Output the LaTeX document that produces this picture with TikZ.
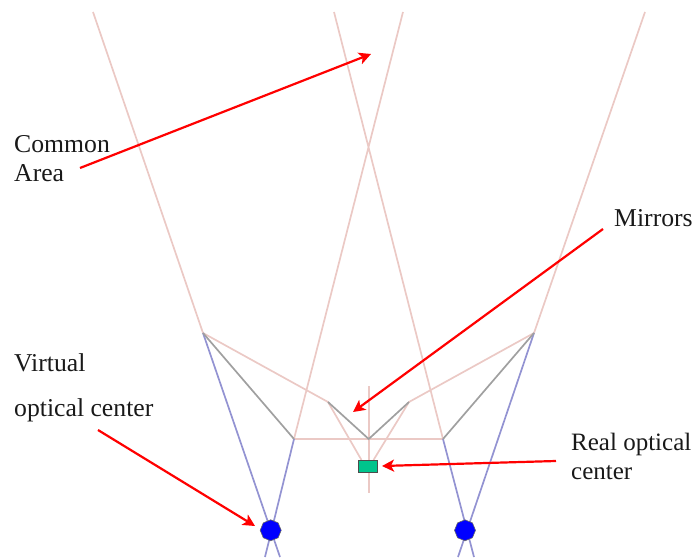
\documentclass[tikz,border=0pt]{standalone}
\usepackage{fontspec}
\setmainfont{Liberation Serif}
\usetikzlibrary{arrows.meta,shapes.geometric}
\definecolor{pinkline}{HTML}{EBC9C5}
\definecolor{blueline}{HTML}{9393D2}
\definecolor{greyline}{HTML}{A0A0A0}
\definecolor{tealbox}{HTML}{00C48C}
\tikzset{
 x=1pt,y=-1pt,
 field/.style={pinkline,line width=1.7pt},
 ray/.style={blueline,line width=1.7pt},
 mirror/.style={greyline,line width=1.7pt},
 callout/.style={red,line width=2.2pt,-{Stealth[length=12pt,width=12pt,inset=3pt]}},
 label/.style={anchor=base west,inner sep=0pt,font=\fontsize{25.7}{28}\selectfont,text=black!90},
 centre/.style={regular polygon,regular polygon sides=8,shape border rotate=22.5,fill=blue,draw=black!60,line width=.6pt,minimum size=21pt,inner sep=0pt},
}
\begin{document}
\begin{tikzpicture}
\useasboundingbox (0,0) rectangle (696,559);
\coordinate (LT) at (93,12);
\coordinate (LO) at (203,333);
\coordinate (LI) at (294,439);
\coordinate (CLT) at (403,12);
\coordinate (CRT) at (334,12);
\coordinate (RT) at (645,12);
\coordinate (RO) at (534,333);
\coordinate (RI) at (443,439);
\coordinate (ML) at (328,402);
\coordinate (MR) at (409,402);
\coordinate (MC) at (368.7,439);
\coordinate (VT) at (368.7,386);
\coordinate (VB) at (368.7,493);
\coordinate (LEA) at (280,557);
\coordinate (LEB) at (265,557);
\coordinate (REA) at (474,557);
\coordinate (REB) at (458,557);
\coordinate (CL) at (361.5,460);
\coordinate (CR) at (373.5,460);
% fields of view
\draw[field] (LT) -- (LO) -- (ML) -- (CL);
\draw[field] (RT) -- (RO) -- (MR) -- (CR);
\draw[field] (CLT) -- (LI) -- (RI) -- (CRT);
\draw[field] (VT) -- (VB);
% rays to the virtual centres
\draw[ray] (LO) -- (LEA);
\draw[ray] (LI) -- (LEB);
\draw[ray] (RO) -- (REB);
\draw[ray] (RI) -- (REA);
% mirrors
\draw[mirror] (LO) -- (LI);
\draw[mirror] (ML) -- (MC) -- (MR);
\draw[mirror] (RO) -- (RI);
\node[draw=black!70,fill=tealbox,line width=.8pt,minimum width=18.5pt,minimum height=12.5pt,inner sep=0pt] (cam) at (368,466.3) {};
\node[centre] (VL) at (270.7,530.3) {};
\node[centre] (VR) at (465,530.3) {};
% labels
\node[label] (common) at (14,153) {Common};
\node[label] (area) at (14,182) {Area};
\node[label] (mirrors) at (614,226) {Mirrors};
\node[label] (virt) at (14,371) {Virtual};
\node[label] (optc) at (14,416) {optical center};
\node[label,font=\fontsize{25}{28}\selectfont] (real) at (571,450) {Real optical};
\node[label,font=\fontsize{25}{28}\selectfont] (center) at (571,479) {center};
% callouts
\coordinate (aA) at (80,168);
\coordinate (aB) at (371,54);
\coordinate (bA) at (603,229);
\coordinate (bB) at (353,412);
\coordinate (cA) at (556,461);
\coordinate (cB) at (382,466);
\coordinate (dA) at (98,430);
\coordinate (dB) at (255,526);
\draw[callout] (aA) -- (aB);
\draw[callout] (bA) -- (bB);
\draw[callout] (cA) -- (cB);
\draw[callout] (dA) -- (dB);
\end{tikzpicture}
\end{document}
